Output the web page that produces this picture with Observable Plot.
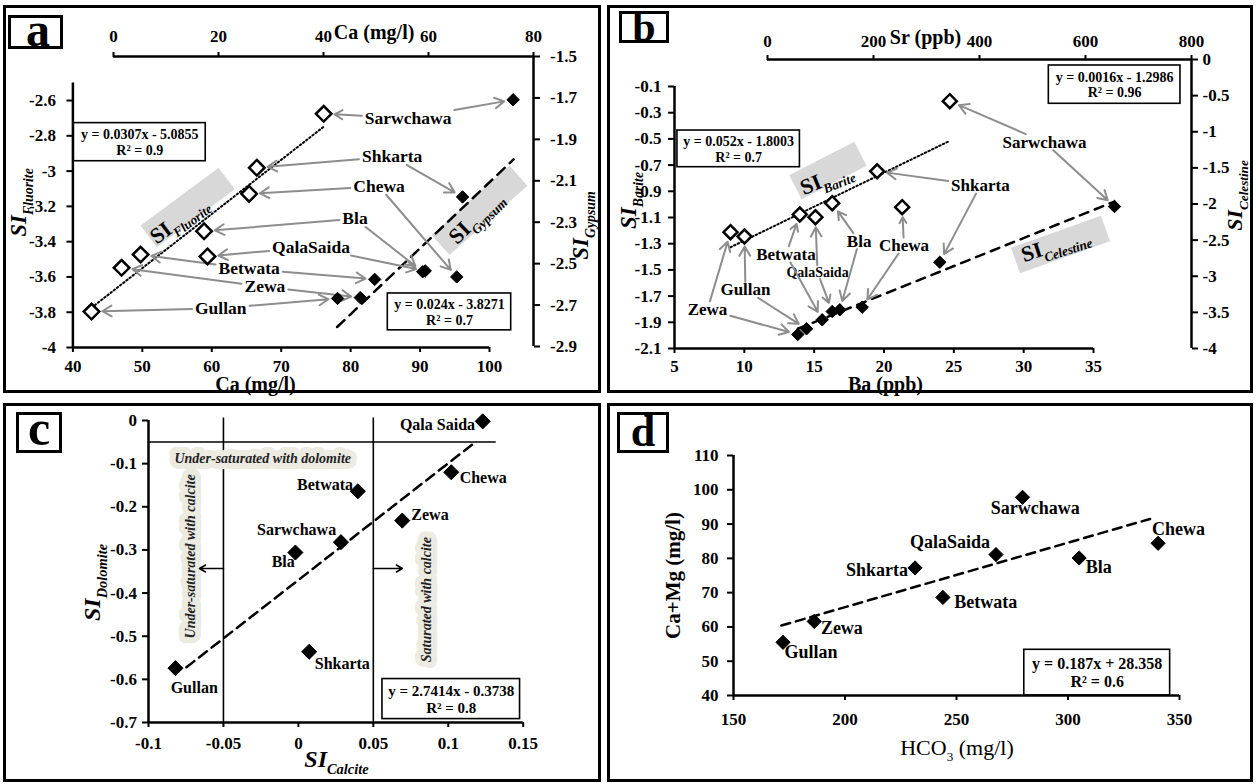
<!DOCTYPE html>
<html><head><meta charset="utf-8">
<script src="https://cdn.jsdelivr.net/npm/d3@7"></script>
<script src="https://cdn.jsdelivr.net/npm/@observablehq/plot@0.6"></script>
<style>
html,body{margin:0;padding:0;background:#fff;overflow:hidden;}
#root{position:relative;width:1256px;height:783px;overflow:hidden;font-family:'Liberation Serif','Times New Roman',serif;}
#root svg{position:absolute;left:0;top:0;}
.panel{position:absolute;border:3px solid #000;box-sizing:border-box;}
.tag{position:absolute;border:3px solid #000;box-sizing:border-box;background:#fff;}
.letter{position:absolute;font-weight:bold;line-height:1;transform:translateX(-50%);font-family:'Liberation Serif',serif;}
</style></head>
<body><div id="root"></div>
<script>
const W = 1256, H = 783;
const FONT = "'Liberation Serif','Times New Roman',serif";

// ---------------- data ----------------
const sites = ["Gullan", "Zewa", "Betwata", "QalaSaida", "Bla", "Chewa", "Shkarta", "Sarwchawa"];

// (a) SI fluorite / SI gypsum vs Ca
const caMgL = [42.68, 47.01, 49.75, 59.38, 58.89, 65.38, 66.49, 76.12];
const siFluorite = [-3.796, -3.548, -3.473, -3.484, -3.341, -3.129, -2.981, -2.675];
const siGypsum = [-2.668, -2.664, -2.576, -2.535, -2.539, -2.564, -2.178, -1.709];
const fitFluoriteCa = [42.7, 76.1], fitFluoriteSI = [-3.774, -2.749];
const fitGypsumCa = [42.6, 76.2], fitGypsumSI = [-2.806, -1.997];
const ticksCa = [40, 50, 60, 70, 80, 90, 100];
const ticksFluorite = [-4, -3.8, -3.6, -3.4, -3.2, -3, -2.8, -2.6];
const ticksCaTop = [0, 20, 40, 60, 80];
const ticksGypsum = [-2.9, -2.7, -2.5, -2.3, -2.1, -1.9, -1.7, -1.5];
const labelCaA = [61.30, 67.65, 65.38, 74.29, 80.63, 84.10, 85.97, 88.28];
const labelSiA = [-3.777, -3.656, -3.554, -3.431, -3.270, -3.087, -2.917, -2.699];
const eqFluorite = "y = 0.0307x - 5.0855\nR² = 0.9";
const eqGypsum = "y = 0.024x - 3.8271\nR² = 0.7";
const boxFluoriteX = [40.13, 59.13], boxFluoriteY = [-2.944, -2.728];
const boxGypsumX = [52.25, 75.75], boxGypsumY = [-2.822, -2.644];
const bandFluoriteX = [50.91, 62.16], bandFluoriteY = [-3.370, -3.042], bandFluoriteText = [55.24, -3.274];
const bandGypsumX = [62.29, 77.14], bandGypsumY = [-2.410, -2.075], bandGypsumText = [68.95, -2.275];

// (b) SI barite vs Ba, SI celestine vs Sr
const baPpb = [10.01, 9.01, 13.97, 15.09, 16.29, 21.30, 19.51, 24.71];
const siBarite = [-1.245, -1.212, -1.077, -1.098, -0.991, -1.021, -0.747, -0.212];
const srPpb = [73.6, 57.2, 103.2, 122.1, 136.4, 178.7, 325.1, 654.7];
const siCelestine = [-3.727, -3.806, -3.603, -3.488, -3.464, -3.428, -2.806, -2.035];
const fitBariteBa = [9.01, 24.61], fitBariteSI = [-1.327, -0.52];
const fitCelestineSr = [57.2, 654.7], fitCelestineSI = [-3.727, -1.966];
const ticksBa = [5, 10, 15, 20, 25, 30, 35];
const ticksBarite = [-2.1, -1.9, -1.7, -1.5, -1.3, -1.1, -0.9, -0.7, -0.5, -0.3, -0.1];
const ticksSr = [0, 200, 400, 600, 800];
const ticksCelestine = [-4, -3.5, -3, -2.5, -2, -1.5, -1, -0.5, 0];
const labelBaB = [10.08, 7.36, 12.98, 15.24, 18.22, 21.43, 26.90, 31.49];
const labelSiB = [-1.652, -1.802, -1.382, -1.518, -1.281, -1.314, -0.856, -0.525];
const eqBarite = "y = 0.052x - 1.8003\nR² = 0.7";
const eqCelestine = "y = 0.0016x - 1.2986\nR² = 0.96";
const boxBariteX = [5.21, 13.98], boxBariteY = [-0.716, -0.436];
const boxCelestineX = [530.8, 779.2], boxCelestineY = [-0.613, -0.083];
const bandBariteX = [13.66, 18.31], bandBariteY = [-0.869, -0.614], bandBariteText = [15.88, -0.802];
const bandCelestineX = [467.9, 637.7], bandCelestineY = [-2.782, -2.339], bandCelestineText = [543.4, -2.561];

// (c) SI dolomite vs SI calcite
const labelNamesC = ["Gullan", "Zewa", "Betwata", "Qala Saida", "Bla", "Chewa", "Shkarta", "Sarwchawa"];
const siCalcite = [-0.082, 0.0693, 0.0397, 0.123, -0.002, 0.102, 0.0072, 0.0284];
const siDolomite = [-0.574, -0.232, -0.164, -0.002, -0.306, -0.12, -0.536, -0.282];
const fitCalcite = [-0.0747, 0.117], fitDolomite = [-0.572, -0.053];
const ticksCalcite = [-0.1, -0.05, 0, 0.05, 0.1, 0.15];
const ticksDolomite = [-0.7, -0.6, -0.5, -0.4, -0.3, -0.2, -0.1, 0];
const labelCalC = [-0.0695, 0.0878, 0.0178, 0.0928, -0.0101, 0.1233, 0.0293, -0.0012];
const labelDolC = [-0.6188, -0.218, -0.1485, -0.010, -0.3287, -0.133, -0.5646, -0.2537];
const limitsCalcite = [-0.05, 0.05], limitDolomite = [-0.05];
const eqDolomite = "y = 2.7414x - 0.3738\nR² = 0.8";
const boxDolomiteX = [0.0561, 0.1479], boxDolomiteY = [-0.6921, -0.5993];
const zoneTexts = ["Under-saturated with dolomite", "Under-saturated with calcite", "Saturated with calcite"];
const zoneX = [-0.0238, -0.0721, 0.0852], zoneY = [-0.0889, -0.315, -0.4153];
const zoneArrowX1 = [-0.05, 0.05], zoneArrowX2 = [-0.066, 0.0694], zoneArrowY = -0.343;

// (d) Ca+Mg vs HCO3
const hco3 = [172.2, 186.2, 243.9, 267.7, 305.0, 340.4, 231.4, 279.6];
const caPlusMg = [55.5, 61.6, 68.6, 81.1, 80.1, 84.4, 77.2, 97.8];
const fitHco3 = [171.5, 336.8], fitCaMg = [60.4, 91.5];
const ticksHco3 = [150, 200, 250, 300, 350];
const ticksCaMg = [40, 50, 60, 70, 80, 90, 100, 110];
const labelHco3D = [184.8, 198.6, 263.1, 247.1, 313.8, 349.6, 214.3, 285.3];
const labelCaMgD = [52.63, 59.74, 67.22, 84.72, 77.43, 88.62, 76.46, 94.75];
const eqCaMg = "y = 0.187x + 28.358\nR² = 0.6";
const boxCaMgX = [280.4, 345.8], boxCaMgY = [40, 53.33];

// ---------------- helpers ----------------
const root = document.getElementById("root");
const cctx = document.createElement("canvas").getContext("2d");
const textW = (s, size) => { cctx.font = `bold ${size}px 'Liberation Serif'`; return cctx.measureText(s).width; };
const pairs = (xs, ys) => xs.map((x, i) => ({x, y: ys[i]}));

function frame(xd, xr, yd, yr) {
  return {xd, xr, yd, yr, sx: Plot.scale({x: {domain: xd, range: xr}}), sy: Plot.scale({y: {domain: yd, range: yr}})};
}
function subify(svg) {
  svg.querySelectorAll("text").forEach(t => {
    const s = t.textContent;
    if (!s.includes("_{")) return;
    const fs = parseFloat(getComputedStyle(t).fontSize) || 16;
    const parts = s.split(/_\{([^}]*)\}/);
    while (t.firstChild) t.removeChild(t.firstChild);
    let shift = 0;
    parts.forEach((p, i) => {
      if (!p) return;
      const isSub = i % 2 === 1;
      const want = isSub ? fs * 0.3 : 0;
      const ts = document.createElementNS("http://www.w3.org/2000/svg", "tspan");
      if (want !== shift) ts.setAttribute("dy", (want - shift).toFixed(2));
      shift = want;
      if (isSub) {
        ts.setAttribute("font-size", (fs * 0.6).toFixed(1));
        if (!/^\d+$/.test(p)) ts.setAttribute("font-style", "italic");
      }
      ts.textContent = p;
      t.appendChild(ts);
    });
  });
}
function draw(f, marks) {
  const svg = Plot.plot({
    width: W, height: H,
    marginLeft: f.xr[0], marginRight: W - f.xr[1], marginTop: f.yr[1], marginBottom: H - f.yr[0],
    x: {domain: f.xd, range: f.xr}, y: {domain: f.yd, range: f.yr},
    style: {background: "transparent", fontFamily: FONT, fontSize: "17px", fontWeight: "bold", color: "black", overflow: "visible"},
    marks
  });
  root.appendChild(svg);
  subify(svg);
  return svg;
}
// arrow from a label (placed in frame lf) to a target point (in frame tf), computed in tf's data space
function seg(name, lx, ly, lf, tx, ty, tf, size, r) {
  const cx = lf.sx.apply(lx), cy = lf.sy.apply(ly);
  const px = tf.sx.apply(tx), py = tf.sy.apply(ty);
  const dx = px - cx, dy = py - cy, L = Math.hypot(dx, dy);
  const hw = textW(name, size) / 2 + 3, hh = size * 0.36 + 2;
  const k = Math.min(Math.abs(dx) > 0.01 ? hw / Math.abs(dx) : 1e9, Math.abs(dy) > 0.01 ? hh / Math.abs(dy) : 1e9);
  return {x1: tf.sx.invert(cx + dx * k), y1: tf.sy.invert(cy + dy * k),
          x2: tf.sx.invert(px - dx / L * (r + 3)), y2: tf.sy.invert(py - dy / L * (r + 3))};
}
const axis = (dim, anchor, ticks, pad, size = 5) =>
  (dim === "x" ? Plot.axisX : Plot.axisY)({anchor, ticks, tickFormat: d => String(d), tickSize: size, tickPadding: pad, strokeWidth: 2, label: null});
const title = (s, o) => Plot.text([s], {text: d => d, frameAnchor: o.anchor, dx: o.dx, dy: o.dy, rotate: o.rotate || 0,
  fontSize: o.size || 20, fontStyle: o.italic ? "italic" : "normal", fontWeight: o.weight || "bold", textAnchor: "middle", lineAnchor: "middle"});
const band = (xs, ys) => Plot.line(pairs(xs, ys), {x: "x", y: "y", stroke: "#d8d8d8", strokeWidth: 27, strokeLinecap: "butt"});
const bandLabel = (s, pos, rot) => Plot.text([s], {x: pos[0], y: pos[1], text: d => d, rotate: rot, fontSize: 22, fontWeight: "bold", textAnchor: "middle", lineAnchor: "middle"});
const eqBox = (bx, by, eq, size) => [
  Plot.rect([0], {x1: bx[0], x2: bx[1], y1: by[0], y2: by[1], fill: "white", stroke: "black", strokeWidth: 1.6}),
  Plot.text([eq], {x: (bx[0] + bx[1]) / 2, y: (by[0] + by[1]) / 2, text: d => d, fontSize: size, fontWeight: "bold", lineHeight: 1.12, textAnchor: "middle", lineAnchor: "middle"})
];
const grayArrows = data => Plot.arrow(data, {x1: "x1", y1: "y1", x2: "x2", y2: "y2", stroke: "#8d8d8d", strokeWidth: 2, headLength: 8});

// panel borders
[[3, 5, 598, 388], [607, 5, 646, 388], [3, 403, 598, 379], [607, 403, 646, 379]].forEach(([l, t, w, h]) => {
  const d = document.createElement("div"); d.className = "panel";
  Object.assign(d.style, {left: l + "px", top: t + "px", width: w + "px", height: h + "px"});
  root.appendChild(d);
});

// ---------------- panel a ----------------
const LA = 17.5;
const fA1 = frame([40, 100], [72.4, 489], [-4, -2.5], [347, 82.4]);
const fA2 = frame([0, 80], [113, 533], [-2.9, -1.5], [346, 56]);
const tA = sites.map((s, i) => ({site: s, ca: caMgL[i], fl: siFluorite[i], gy: siGypsum[i], lx: labelCaA[i], ly: labelSiA[i]}));
draw(fA1, [
  band(bandFluoriteX, bandFluoriteY),
  bandLabel("SI_{Fluorite}", bandFluoriteText, -37),
  ...eqBox(boxFluoriteX, boxFluoriteY, eqFluorite, 14),
  Plot.line(pairs(fitFluoriteCa, fitFluoriteSI), {x: "x", y: "y", stroke: "black", strokeWidth: 2, strokeDasharray: "1.5,2.5"}),
  Plot.ruleX([40], {stroke: "black", strokeWidth: 2.5}),
  Plot.ruleY([-4], {stroke: "black", strokeWidth: 2.5}),
  axis("x", "bottom", ticksCa, 7),
  axis("y", "left", ticksFluorite, 11, 6),
  grayArrows(tA.map(d => seg(d.site, d.lx, d.ly, fA1, d.ca, d.fl, fA1, LA, 7.8))),
  Plot.dot(tA, {x: "ca", y: "fl", symbol: "diamond2", r: 7, fill: "white", stroke: "black", strokeWidth: 2.5}),
  Plot.text(tA, {x: "lx", y: "ly", text: "site", fontSize: LA, fontWeight: "bold", textAnchor: "middle", lineAnchor: "middle"}),
  title("Ca (mg/l)", {anchor: "bottom", dx: -25.7, dy: 37.5, size: 20}),
  title("SI_{Fluorite}", {anchor: "left", dx: -54.4, dy: -12.75, rotate: -90, size: 23, italic: true})
]);
draw(fA2, [
  band(bandGypsumX, bandGypsumY),
  bandLabel("SI_{Gypsum}", bandGypsumText, -45),
  ...eqBox(boxGypsumX, boxGypsumY, eqGypsum, 14),
  Plot.line(pairs(fitGypsumCa, fitGypsumSI), {x: "x", y: "y", stroke: "black", strokeWidth: 2.5, strokeDasharray: "10,7"}),
  Plot.ruleY([-1.5], {stroke: "black", strokeWidth: 2.5}),
  Plot.ruleX([80], {stroke: "black", strokeWidth: 2.5}),
  axis("x", "top", ticksCaTop, 10),
  axis("y", "right", ticksGypsum, 10.6, 6),
  grayArrows(tA.map(d => seg(d.site, d.lx, d.ly, fA1, d.ca, d.gy, fA2, LA, 6.2))),
  Plot.dot(tA, {x: "ca", y: "gy", symbol: "diamond2", r: 5.6, fill: "black", stroke: "black", strokeWidth: 1}),
  title("Ca (mg/l)", {anchor: "top", dx: 50.6, dy: -24, size: 20}),
  title("SI_{Gypsum}", {anchor: "right", dx: 47, dy: 24, rotate: -90, size: 23, italic: true})
]);

// ---------------- panel b ----------------
const LB = 17;
const fB1 = frame([5, 35], [674, 1093], [-2.1, -0.1], [348, 86]);
const fB2 = frame([0, 800], [767, 1191], [-4, 0], [348, 59]);
const tB = sites.map((s, i) => ({site: s, ba: baPpb[i], br: siBarite[i], sr: srPpb[i], ce: siCelestine[i], lx: labelBaB[i], ly: labelSiB[i],
  size: s === "QalaSaida" ? 14 : LB}));
draw(fB1, [
  band(bandBariteX, bandBariteY),
  bandLabel("SI_{Barite}", bandBariteText, -22),
  ...eqBox(boxBariteX, boxBariteY, eqBarite, 14),
  Plot.line(pairs(fitBariteBa, fitBariteSI), {x: "x", y: "y", stroke: "black", strokeWidth: 2, strokeDasharray: "1.5,2.5"}),
  Plot.ruleX([5], {stroke: "black", strokeWidth: 2.5}),
  Plot.ruleY([-2.1], {stroke: "black", strokeWidth: 2.5}),
  axis("x", "bottom", ticksBa, 6),
  axis("y", "left", ticksBarite, 7, 6),
  grayArrows(tB.map(d => seg(d.site, d.lx, d.ly, fB1, d.ba, d.br, fB1, d.size, 7))),
  Plot.dot(tB, {x: "ba", y: "br", symbol: "diamond2", r: 6.3, fill: "white", stroke: "black", strokeWidth: 2.5}),
  Plot.text(tB, {x: "lx", y: "ly", text: "site", fontSize: "size", fontWeight: "bold", textAnchor: "middle", lineAnchor: "middle"}),
  title("Ba (ppb)", {anchor: "bottom", dx: 1.5, dy: 36.5, size: 20}),
  title("SI_{Barite}", {anchor: "left", dx: -46, dy: -17, rotate: -90, size: 23, italic: true})
]);
draw(fB2, [
  band(bandCelestineX, bandCelestineY),
  bandLabel("SI_{Celestine}", bandCelestineText, -18),
  ...eqBox(boxCelestineX, boxCelestineY, eqCelestine, 14),
  Plot.line(pairs(fitCelestineSr, fitCelestineSI), {x: "x", y: "y", stroke: "black", strokeWidth: 2.5, strokeDasharray: "9,7"}),
  Plot.ruleY([0], {stroke: "black", strokeWidth: 2.5}),
  Plot.ruleX([800], {stroke: "black", strokeWidth: 2.5}),
  axis("x", "top", ticksSr, 8),
  axis("y", "right", ticksCelestine, 5, 6),
  grayArrows(tB.map(d => seg(d.site, d.lx, d.ly, fB1, d.sr, d.ce, fB2, d.size, 6.2))),
  Plot.dot(tB, {x: "sr", y: "ce", symbol: "diamond2", r: 5.6, fill: "black", stroke: "black", strokeWidth: 1}),
  title("Sr (ppb)", {anchor: "top", dx: -54, dy: -22, size: 20}),
  title("SI_{Celestine}", {anchor: "right", dx: 43, dy: -8.5, rotate: -90, size: 22, italic: true})
]);

// ---------------- panel c ----------------
const fC = frame([-0.1, 0.15], [148, 522.7], [-0.7, 0], [722, 420]);
const tC = labelNamesC.map((s, i) => ({site: s, x: siCalcite[i], y: siDolomite[i], lx: labelCalC[i], ly: labelDolC[i]}));
draw(fC, [
  Plot.ruleX(limitsCalcite, {y1: -0.7, y2: 0.006, stroke: "black", strokeWidth: 1.6}),
  Plot.ruleY(limitDolomite, {x1: -0.1, x2: 0.132, stroke: "black", strokeWidth: 1.6}),
  Plot.text(zoneTexts, {x: (d, i) => zoneX[i], y: (d, i) => zoneY[i], text: d => d, rotate: (d, i) => i === 0 ? 0 : -90,
    fontSize: 14, fontStyle: "italic", fontWeight: "bold", stroke: "#ebebe2", strokeWidth: 12, strokeLinejoin: "round",
    paintOrder: "stroke", fill: "#222", textAnchor: "middle", lineAnchor: "middle"}),
  Plot.arrow(zoneArrowX1, {x1: d => d, x2: (d, i) => zoneArrowX2[i], y1: zoneArrowY, y2: zoneArrowY, stroke: "black", strokeWidth: 1.5, headLength: 7}),
  ...eqBox(boxDolomiteX, boxDolomiteY, eqDolomite, 15),
  Plot.line(pairs(fitCalcite, fitDolomite), {x: "x", y: "y", stroke: "black", strokeWidth: 2.5, strokeDasharray: "10,6"}),
  Plot.ruleX([-0.1], {stroke: "black", strokeWidth: 2.5}),
  Plot.ruleY([-0.7], {stroke: "black", strokeWidth: 2.5}),
  axis("x", "bottom", ticksCalcite, 9),
  axis("y", "left", ticksDolomite, 5.6, 6),
  Plot.dot(tC, {x: "x", y: "y", symbol: "diamond2", r: 6.8, fill: "black", stroke: "black", strokeWidth: 1}),
  Plot.text(tC, {x: "lx", y: "ly", text: "site", fontSize: 16, fontWeight: "bold", textAnchor: "middle", lineAnchor: "middle"}),
  title("SI_{Calcite}", {anchor: "bottom", dx: 0.6, dy: 37, size: 24, italic: true}),
  title("SI_{Dolomite}", {anchor: "left", dx: -56, dy: 11, rotate: -90, size: 24, italic: true})
]);

// ---------------- panel d ----------------
const fD = frame([150, 350], [733, 1179], [40, 110], [695, 455]);
const tD = sites.map((s, i) => ({site: s, x: hco3[i], y: caPlusMg[i], lx: labelHco3D[i], ly: labelCaMgD[i]}));
draw(fD, [
  ...eqBox(boxCaMgX, boxCaMgY, eqCaMg, 16),
  Plot.line(pairs(fitHco3, fitCaMg), {x: "x", y: "y", stroke: "black", strokeWidth: 2.5, strokeDasharray: "9,6"}),
  Plot.ruleX([150], {stroke: "black", strokeWidth: 2.5}),
  Plot.ruleY([40], {stroke: "black", strokeWidth: 2.5}),
  axis("x", "bottom", ticksHco3, 12),
  axis("y", "left", ticksCaMg, 9, 6),
  Plot.dot(tD, {x: "x", y: "y", symbol: "diamond2", r: 6.4, fill: "black", stroke: "black", strokeWidth: 1}),
  Plot.text(tD, {x: "lx", y: "ly", text: "site", fontSize: 18, fontWeight: "bold", textAnchor: "middle", lineAnchor: "middle"}),
  title("HCO_{3} (mg/l)", {anchor: "bottom", dx: 0.5, dy: 52, size: 22, weight: "normal"}),
  title("Ca+Mg (mg/l)", {anchor: "left", dx: -60, dy: 0, rotate: -90, size: 21})
]);

// ---------------- panel tags ----------------
[["a", 8, 15, 55, 34, 48, 46, 38], ["b", 619, 11, 50, 32, 42, 41, 644], ["c", 16, 412, 46, 41, 50, 445, 39], ["d", 617, 412, 52, 41, 44, 447, 643]]
  .forEach(([ch, l, t, w, h, fs, base, cx]) => {
    const b = document.createElement("div"); b.className = "tag";
    Object.assign(b.style, {left: l + "px", top: t + "px", width: w + "px", height: h + "px"});
    root.appendChild(b);
    const s = document.createElement("div"); s.className = "letter"; s.textContent = ch;
    Object.assign(s.style, {left: cx + "px", top: (base - 0.8375 * fs) + "px", fontSize: fs + "px"});
    root.appendChild(s);
  });
</script></body></html>
